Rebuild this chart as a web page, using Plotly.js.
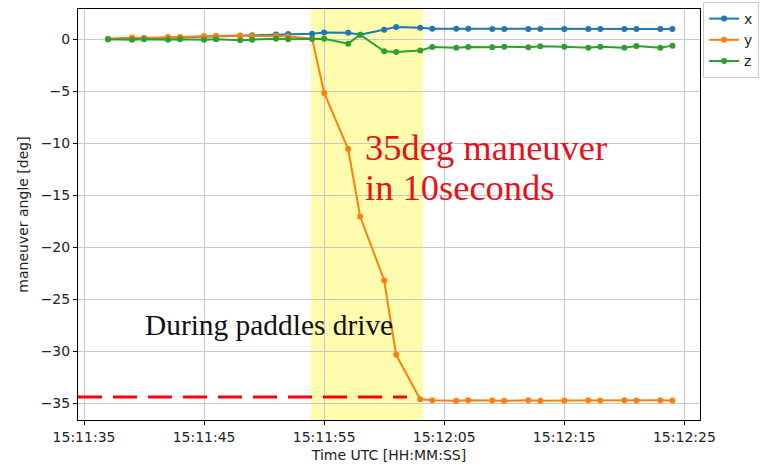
<!DOCTYPE html>
<html>
<head>
<meta charset="utf-8">
<script src="https://cdn.plot.ly/plotly-3.0.1.min.js"></script>
<style>html,body{margin:0;padding:0;background:#fff;}#chart{width:769px;height:474px;}</style>
</head>
<body>
<div id="chart"></div>
<script>
// Sample times (UTC, HH:MM:SS)
const times = ["15:11:37","15:11:39","15:11:40","15:11:42","15:11:43","15:11:45","15:11:46","15:11:48","15:11:49","15:11:51","15:11:52","15:11:54","15:11:55","15:11:57","15:11:58","15:12:00","15:12:01","15:12:03","15:12:04","15:12:06","15:12:07","15:12:09","15:12:10","15:12:12","15:12:13","15:12:15","15:12:17","15:12:18","15:12:20","15:12:21","15:12:23","15:12:24"];
const xAngle = [0.0,0.05,0.08,0.12,0.15,0.22,0.27,0.33,0.38,0.45,0.5,0.53,0.65,0.62,0.43,0.9,1.17,1.1,1.0,1.0,1.0,0.98,0.98,0.98,0.98,0.98,0.98,0.98,0.98,0.98,0.98,0.98];
const yAngle = [0.05,0.15,0.12,0.2,0.2,0.3,0.3,0.35,0.3,0.3,0.25,0.05,-5.17,-10.56,-17.04,-23.19,-30.34,-34.6,-34.7,-34.75,-34.7,-34.72,-34.75,-34.7,-34.75,-34.72,-34.7,-34.72,-34.7,-34.72,-34.7,-34.72];
const zAngle = [0.0,-0.05,0.0,-0.05,0.0,-0.05,0.0,-0.1,-0.05,0.05,0.0,0.05,0.05,-0.43,0.43,-1.17,-1.23,-1.08,-0.75,-0.82,-0.75,-0.78,-0.72,-0.78,-0.69,-0.72,-0.82,-0.72,-0.82,-0.65,-0.82,-0.62];

// Paddle drive window and reference level
const driveStart = "15:11:53.9";
const driveEnd = "15:12:03.25";
const refLineTimes = ["15:11:34.5","15:12:01.9"];
const refLineLevel = -34.4;

// Axis settings
const xRange = ["15:11:34.5","15:12:26.3"];
const yRange = [-36.6, 2.9];
const yTicks = [0,-5,-10,-15,-20,-25,-30,-35];

const day = "2000-01-01 ";
const t = s => day + s;
const T = arr => arr.map(t);

const mk = (name, ys, color) => ({
  x: T(times), y: ys, name: name, type: 'scatter', mode: 'lines+markers',
  line: {color: color, width: 2}, marker: {color: color, size: 6}
});

const traces = [
  {x: T(refLineTimes), y: refLineTimes.map(() => refLineLevel), type: 'scatter', mode: 'lines',
   line: {color: '#ff0000', width: 3, dash: '24px,11px'}, showlegend: false, hoverinfo: 'skip'},
  mk('x', xAngle, '#1f77b4'),
  mk('y', yAngle, '#ff7f0e'),
  mk('z', zAngle, '#2ca02c')
];

const tickFont = {family: 'DejaVu Sans', size: 14, color: '#222'};

const layout = {
  width: 769, height: 474,
  margin: {l: 78, r: 69, t: 9, b: 54, autoexpand: false},
  paper_bgcolor: '#fff', plot_bgcolor: '#fff',
  showlegend: true,
  legend: {x: 1.005, y: 1.017, xanchor: 'left', yanchor: 'top', bgcolor: '#fff',
           bordercolor: '#cccccc', borderwidth: 1, font: {family: 'DejaVu Sans', size: 14, color: '#222'},
           itemwidth: 30, tracegroupgap: 0},
  xaxis: {type: 'date', range: T(xRange), tick0: t("15:11:35"), dtick: 10000, tickformat: '%H:%M:%S',
          showgrid: true, gridcolor: '#c8c8c8', gridwidth: 1, zeroline: false, automargin: false,
          showline: true, mirror: true, linecolor: '#000', linewidth: 1,
          ticks: 'outside', ticklen: 4, tickcolor: '#000', tickfont: tickFont,
          title: {text: 'Time UTC [HH:MM:SS]', font: {family: 'DejaVu Sans', size: 14, color: '#222'}, standoff: 6}},
  yaxis: {range: yRange, tickvals: yTicks, showgrid: true, gridcolor: '#c8c8c8', gridwidth: 1, zeroline: false, automargin: false,
          showline: true, mirror: true, linecolor: '#000', linewidth: 1,
          ticks: 'outside', ticklen: 4, tickcolor: '#000', tickfont: tickFont,
          title: {text: 'maneuver angle [deg]', font: {family: 'DejaVu Sans', size: 14, color: '#222'}, standoff: 8}},
  shapes: [
    {type: 'rect', xref: 'x', yref: 'paper', x0: t(driveStart), x1: t(driveEnd), y0: 0, y1: 1,
     fillcolor: 'rgba(255,250,130,0.65)', line: {width: 0}, layer: 'below'}
  ],
  annotations: [
    {xref: 'x', yref: 'y', x: t("15:11:58.2"), y: -10.43, xanchor: 'left', yanchor: 'middle', showarrow: false,
     text: '35deg maneuver', font: {family: 'Liberation Serif', size: 36.5, color: '#e8101a'}},
    {xref: 'x', yref: 'y', x: t("15:11:58.2"), y: -14.28, xanchor: 'left', yanchor: 'middle', showarrow: false,
     text: 'in 10seconds', font: {family: 'Liberation Serif', size: 36.5, color: '#e8101a'}},
    {xref: 'x', yref: 'y', x: t("15:11:39.9"), y: -27.45, xanchor: 'left', yanchor: 'middle', showarrow: false,
     text: 'During paddles drive', font: {family: 'Liberation Serif', size: 29.4, color: '#111'}}
  ]
};

Plotly.newPlot('chart', traces, layout, {displayModeBar: false, staticPlot: true});
</script>
</body>
</html>
